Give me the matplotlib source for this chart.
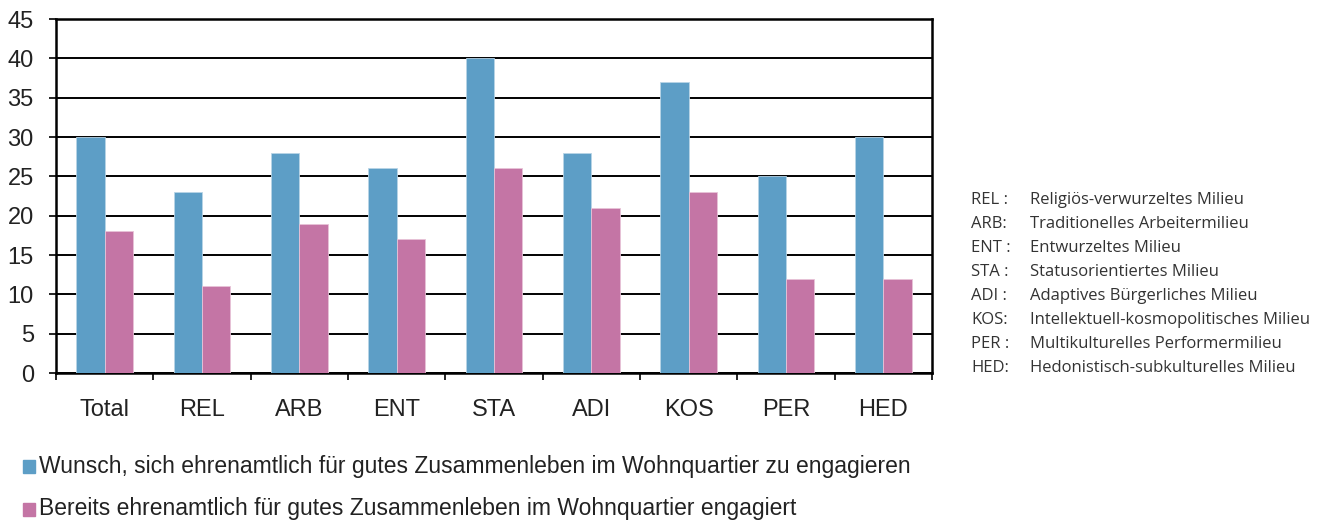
import matplotlib.pyplot as plt
import numpy as np
from matplotlib.patches import Rectangle

categories = ['Total', 'REL', 'ARB', 'ENT', 'STA', 'ADI', 'KOS', 'PER', 'HED']
wunsch = [30, 23, 28, 26, 40, 28, 37, 25, 30]
bereits = [18, 11, 19, 17, 26, 21, 23, 12, 12]

series_labels = [
    'Wunsch, sich ehrenamtlich für gutes Zusammenleben im Wohnquartier zu engagieren',
    'Bereits ehrenamtlich für gutes Zusammenleben im Wohnquartier engagiert',
]

abbrev = ['REL :', 'ARB:', 'ENT :', 'STA :', 'ADI :', 'KOS:', 'PER :', 'HED:']
milieus = [
    'Religiös-verwurzeltes Milieu',
    'Traditionelles Arbeitermilieu',
    'Entwurzeltes Milieu',
    'Statusorientiertes Milieu',
    'Adaptives Bürgerliches Milieu',
    'Intellektuell-kosmopolitisches Milieu',
    'Multikulturelles Performermilieu',
    'Hedonistisch-subkulturelles Milieu',
]

BLUE = '#5d9ec6'
PINK = '#c475a5'

plt.rcParams['font.family'] = ['Liberation Sans', 'DejaVu Sans']

fig = plt.figure(figsize=(13.25, 5.22), dpi=100)
ax = fig.add_axes([0.0423, 0.2854, 0.6611, 0.6782])

x = np.arange(len(categories))
w = 0.29
ax.bar(x - w / 2, wunsch, w, color=BLUE, edgecolor='#b8d4e6', linewidth=0.6, zorder=3)
ax.bar(x + w / 2, bereits, w, color=PINK, edgecolor='#e8c3d8', linewidth=0.6, zorder=3)

ax.set_xlim(-0.5, len(categories) - 0.5)
ax.set_ylim(0, 45)
ax.set_yticks(range(0, 46, 5))
ax.yaxis.grid(True, color='black', linewidth=1.4, zorder=0)
ax.set_axisbelow(True)

for s in ax.spines.values():
    s.set_color('black')
    s.set_linewidth(1.8)

# category labels centred, tick marks between the groups
ax.set_xticks(x)
ax.set_xticklabels(categories, fontsize=17, color='#222222')
ax.tick_params(axis='x', length=0, pad=19)
ax.set_xticks(np.arange(-0.5, len(categories), 1), minor=True)
ax.tick_params(axis='x', which='minor', length=5, width=1.2, direction='out', color='black')
ax.tick_params(axis='y', labelsize=17, labelcolor='#222222', length=5, width=1.2, pad=11)

# legend rows under the chart
for i, (lbl, col) in enumerate(zip(series_labels, [BLUE, PINK])):
    ypos = 1 - (466 + i * 43) / 522
    fig.patches.append(Rectangle((23 / 1325, ypos - 6.5 / 522), 12 / 1325, 13 / 522,
                                 transform=fig.transFigure, color=col))
    fig.text(39 / 1325, ypos, lbl, fontsize=16.5, color='#222222', va='center', ha='left')

# abbreviation key on the right
for i, (a, m) in enumerate(zip(abbrev, milieus)):
    ypos = 1 - (200 + i * 24) / 522
    fig.text(971 / 1325, ypos, a, fontsize=12, color='#333333', va='center',
             family=['Open Sans', 'DejaVu Sans'])
    fig.text(1030 / 1325, ypos, m, fontsize=12, color='#333333', va='center',
             family=['Open Sans', 'DejaVu Sans'])

fig.savefig('out.png', dpi=100)
